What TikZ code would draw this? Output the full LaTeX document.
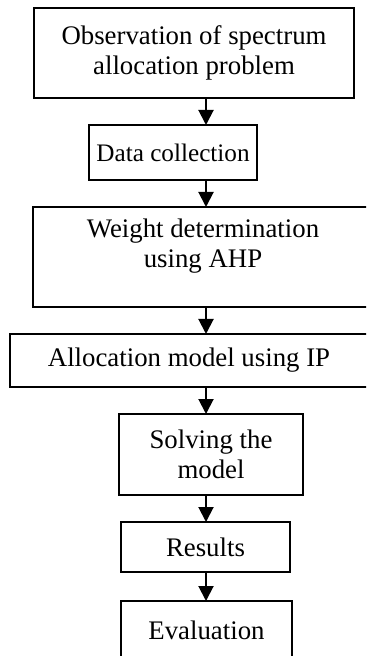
\documentclass[tikz,border=0pt]{standalone}
\usepackage{fontspec}
\setmainfont{Liberation Serif}
\usetikzlibrary{arrows.meta}

\begin{document}
\begin{tikzpicture}[x=0.5pt,y=-0.5pt,font=\fontsize{13.4}{15}\selectfont,
    stepbox/.style={draw,line width=1pt,align=center,inner sep=0pt,outer sep=0pt},
    flow/.style={-{Triangle[length=7.5pt,width=7.5pt]},line width=1pt}]
  \path[use as bounding box,clip] (0,0) rectangle (366,656);
  \coordinate (col) at (206,0);
  % the steps, top to bottom
  \node[stepbox,minimum width=160pt,minimum height=45pt] (obs) at (194,53)
    {Observation of spectrum\\allocation problem};
  \node[stepbox,minimum width=84pt,minimum height=27.5pt,
    font=\fontsize{12.6}{15}\selectfont] (data) at (173,152.5)
    {Data collection};
  \node[stepbox,minimum width=170pt,minimum height=50pt] (ahp) at (203,257)
    {Weight determination\\using AHP\\[-6pt]\strut};
  \node[stepbox,minimum width=179pt,minimum height=26.5pt] (ipmodel) at (189,360.5)
    {Allocation model using IP};
  \node[stepbox,minimum width=92pt,minimum height=40.5pt] (solve) at (211,454.5)
    {Solving the\\model};
  \node[stepbox,minimum width=84.5pt,minimum height=25pt] (results) at (205.5,547)
    {Results};
  \node[stepbox,minimum width=85.5pt,minimum height=29pt] (evalbox) at (206.5,630)
    {Evaluation};
  % arrows all run down one column
  \draw[flow] (obs.south -| col) -- (data.north -| col);
  \draw[flow] (data.south -| col) -- (ahp.north -| col);
  \draw[flow] (ahp.south -| col) -- (ipmodel.north -| col);
  \draw[flow] (ipmodel.south -| col) -- (solve.north -| col);
  \draw[flow] (solve.south -| col) -- (results.north -| col);
  \draw[flow] (results.south -| col) -- (evalbox.north -| col);
\end{tikzpicture}
\end{document}
